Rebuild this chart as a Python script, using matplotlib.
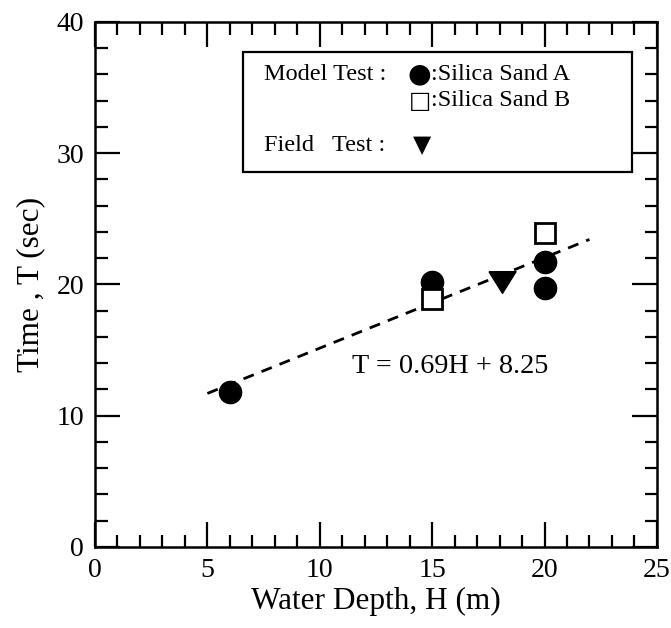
import matplotlib
matplotlib.use("Agg")
import matplotlib.pyplot as plt
from matplotlib.ticker import MultipleLocator
import numpy as np

plt.rcParams["font.family"] = ["Liberation Serif", "DejaVu Serif"]

# silica sand A (model test)
sand_a_depth = [6, 15, 20, 20]
sand_a_time = [11.8, 20.2, 21.7, 19.7]

# silica sand B (model test)
sand_b_depth = [15, 20]
sand_b_time = [18.9, 23.9]

# field test
field_depth = [18.1]
field_time = [20.2]

# regression T = 0.69H + 8.25
fit_slope = 0.69
fit_icept = 8.25
fit_range = [5, 22]

# flattened down-triangle marker
tri = [(-1, 0.8), (1, 0.8), (0, -0.8), (-1, 0.8)]

fig = plt.figure(figsize=(6.71, 6.28), dpi=100)
ax = fig.add_axes([0.1416, 0.129, 0.979 - 0.1416, 0.965 - 0.129])

h = np.linspace(fit_range[0], fit_range[1], 50)
ax.plot(h, fit_slope * h + fit_icept, color="black", lw=2.0,
        linestyle=(0, (4, 3)), zorder=2)

ax.plot(sand_a_depth, sand_a_time, "o", color="black", ms=16, zorder=3)
ax.plot(sand_b_depth, sand_b_time, "s", mfc="white", mec="black",
        mew=2, ms=14.5, zorder=3)
ax.plot(field_depth, field_time, marker=tri, ls="none", color="black",
        ms=19.5, zorder=3)

ax.text(11.45, 13.75, "T = 0.69H + 8.25", fontsize=20.3, va="center", ha="left")

# legend box
box = plt.Rectangle((6.6, 28.55), 23.9 - 6.6, 37.75 - 28.55, fill=False,
                    lw=1.6, ec="black", zorder=4)
ax.add_patch(box)
ax.text(7.5, 36.0, "Model Test :", fontsize=17.5, va="center")
ax.text(14.45, 36.0, "●", fontsize=19.5, va="center", ha="center",
        family=["DejaVu Sans"])
ax.text(14.95, 36.0, ":Silica Sand A", fontsize=17.5, va="center")
ax.text(14.45, 34.0, "□", fontsize=17, va="center", ha="center",
        family=["DejaVu Sans"])
ax.text(14.95, 34.0, ":Silica Sand B", fontsize=17.5, va="center")
ax.text(7.5, 30.6, "Field   Test :", fontsize=17.5, va="center")
ax.text(14.55, 30.6, "▼", fontsize=17, va="center", ha="center",
        family=["DejaVu Sans"])

ax.set_xlim(0, 25)
ax.set_ylim(0, 40)
ax.xaxis.set_major_locator(MultipleLocator(5))
ax.xaxis.set_minor_locator(MultipleLocator(1))
ax.yaxis.set_major_locator(MultipleLocator(10))
ax.yaxis.set_minor_locator(MultipleLocator(2))
ax.tick_params(which="both", direction="in", top=True, right=True,
               width=1.6, labelsize=20)
ax.tick_params(which="major", length=18, pad=8)
ax.tick_params(which="minor", length=9)
for s in ax.spines.values():
    s.set_linewidth(1.8)

ax.set_xlabel("Water Depth, H (m)", fontsize=22.5, labelpad=3)
ax.set_ylabel("Time , T (sec)", fontsize=22.5, labelpad=8)

fig.savefig("out.png", dpi=100)
